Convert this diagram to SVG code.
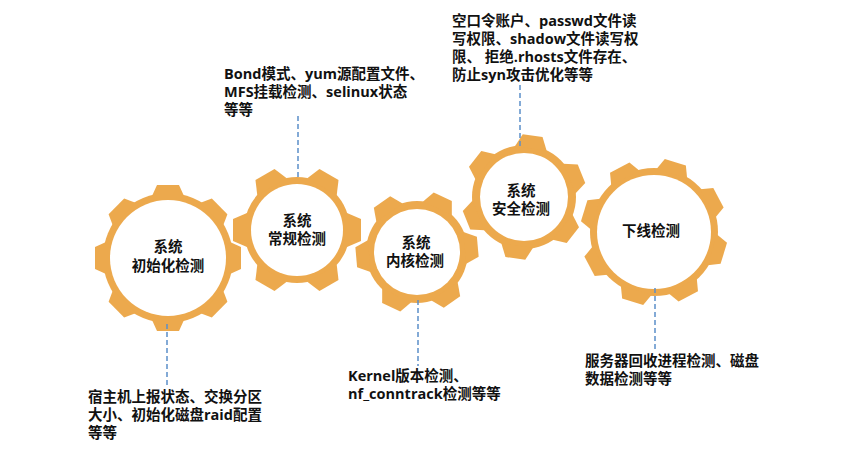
<svg xmlns="http://www.w3.org/2000/svg" width="865" height="463" viewBox="0 0 865 463">
<style>
.g{fill:#ECA94D}
.w{fill:#FFFFFF}
.t{font-family:'Open Sans','Noto Sans CJK SC',sans-serif;font-weight:bold;font-size:14.5px;fill:#111}
.c{text-anchor:middle}
.d{stroke:#5B8FC9;stroke-width:1.5;stroke-dasharray:5 3;fill:none}
</style>
<rect width="865" height="463" fill="#FFFFFF"/>
<g id="gear1" transform="translate(168,258)">
<circle class="g" r="65"/>
<g class="g">
<polygon points="-16,-62 -11,-73 11,-73 16,-62" transform="rotate(0)"/>
<polygon points="-16,-62 -11,-73 11,-73 16,-62" transform="rotate(45)"/>
<polygon points="-16,-62 -11,-73 11,-73 16,-62" transform="rotate(90)"/>
<polygon points="-16,-62 -11,-73 11,-73 16,-62" transform="rotate(135)"/>
<polygon points="-16,-62 -11,-73 11,-73 16,-62" transform="rotate(180)"/>
<polygon points="-16,-62 -11,-73 11,-73 16,-62" transform="rotate(225)"/>
<polygon points="-16,-62 -11,-73 11,-73 16,-62" transform="rotate(270)"/>
<polygon points="-16,-62 -11,-73 11,-73 16,-62" transform="rotate(315)"/>
</g>
<circle class="w" r="58"/>
<text class="t c" x="0" y="-6">系统</text>
<text class="t c" x="0" y="13">初始化检测</text>
</g>
<g id="gear2" transform="translate(297,230)">
<circle class="g" r="53"/>
<g class="g">
<polygon points="-17,-50 -11,-64 11,-64 17,-50" transform="rotate(-30)"/>
<polygon points="-17,-50 -11,-64 11,-64 17,-50" transform="rotate(30)"/>
<polygon points="-17,-50 -11,-64 11,-64 17,-50" transform="rotate(90)"/>
<polygon points="-17,-50 -11,-64 11,-64 17,-50" transform="rotate(150)"/>
<polygon points="-17,-50 -11,-64 11,-64 17,-50" transform="rotate(210)"/>
<polygon points="-17,-50 -11,-64 11,-64 17,-50" transform="rotate(270)"/>
</g>
<circle class="w" r="46"/>
<text class="t c" x="0" y="-4">系统</text>
<text class="t c" x="0" y="14">常规检测</text>
</g>
<g id="gear3" transform="translate(417,252)">
<circle class="g" r="51"/>
<g class="g">
<polygon points="-16,-48 -10,-61 10,-61 16,-48" transform="rotate(-35)"/>
<polygon points="-16,-48 -10,-61 10,-61 16,-48" transform="rotate(25)"/>
<polygon points="-16,-48 -10,-61 10,-61 16,-48" transform="rotate(85)"/>
<polygon points="-16,-48 -10,-61 10,-61 16,-48" transform="rotate(145)"/>
<polygon points="-16,-48 -10,-61 10,-61 16,-48" transform="rotate(205)"/>
<polygon points="-16,-48 -10,-61 10,-61 16,-48" transform="rotate(265)"/>
</g>
<circle class="w" r="43"/>
<text class="t c" x="-1" y="-4">系统</text>
<text class="t c" x="-2" y="14">内核检测</text>
</g>
<g id="gear4" transform="translate(524,197)">
<circle class="g" r="52"/>
<g class="g">
<polygon points="-16,-49 -10,-62 10,-62 16,-49" transform="rotate(8)"/>
<polygon points="-16,-49 -10,-62 10,-62 16,-49" transform="rotate(68)"/>
<polygon points="-16,-49 -10,-62 10,-62 16,-49" transform="rotate(128)"/>
<polygon points="-16,-49 -10,-62 10,-62 16,-49" transform="rotate(188)"/>
<polygon points="-16,-49 -10,-62 10,-62 16,-49" transform="rotate(248)"/>
<polygon points="-16,-49 -10,-62 10,-62 16,-49" transform="rotate(308)"/>
</g>
<circle class="w" r="44"/>
<text class="t c" x="-3" y="-1">系统</text>
<text class="t c" x="-3" y="17">安全检测</text>
</g>
<g id="gear5" transform="translate(654,232)">
<circle class="g" r="64"/>
<g class="g">
<polygon points="-16,-61 -11,-73 11,-73 16,-61" transform="rotate(17)"/>
<polygon points="-16,-61 -11,-73 11,-73 16,-61" transform="rotate(62)"/>
<polygon points="-16,-61 -11,-73 11,-73 16,-61" transform="rotate(107)"/>
<polygon points="-16,-61 -11,-73 11,-73 16,-61" transform="rotate(152)"/>
<polygon points="-16,-61 -11,-73 11,-73 16,-61" transform="rotate(197)"/>
<polygon points="-16,-61 -11,-73 11,-73 16,-61" transform="rotate(242)"/>
<polygon points="-16,-61 -11,-73 11,-73 16,-61" transform="rotate(287)"/>
<polygon points="-16,-61 -11,-73 11,-73 16,-61" transform="rotate(332)"/>
</g>
<circle class="w" r="57"/>
<text class="t c" x="-3" y="4">下线检测</text>
</g>
<g id="connectors">
<line class="d" x1="167" y1="324" x2="167" y2="386"/>
<line class="d" x1="298" y1="116" x2="298" y2="180"/>
<line class="d" x1="418" y1="300" x2="418" y2="366"/>
<line class="d" x1="520" y1="85" x2="520" y2="148"/>
<line class="d" x1="655" y1="288" x2="655" y2="350"/>
</g>
<g id="note1">
<text class="t" x="88" y="402">宿主机上报状态、交换分区</text>
<text class="t" x="88" y="420">大小、初始化磁盘raid配置</text>
<text class="t" x="88" y="438">等等</text>
</g>
<g id="note2">
<text class="t" x="224" y="79">Bond模式、yum源配置文件、</text>
<text class="t" x="224" y="97">MFS挂载检测、selinux状态</text>
<text class="t" x="224" y="115">等等</text>
</g>
<g id="note3">
<text class="t" x="348" y="381">Kernel版本检测、</text>
<text class="t" x="348" y="399">nf_conntrack检测等等</text>
</g>
<g id="note4">
<text class="t" x="452" y="26">空口令账户、passwd文件读</text>
<text class="t" x="452" y="44">写权限、shadow文件读写权</text>
<text class="t" x="452" y="62">限、 拒绝.rhosts文件存在、</text>
<text class="t" x="452" y="80">防止syn攻击优化等等</text>
</g>
<g id="note5">
<text class="t" x="585" y="366">服务器回收进程检测、磁盘</text>
<text class="t" x="585" y="384">数据检测等等</text>
</g>
</svg>
